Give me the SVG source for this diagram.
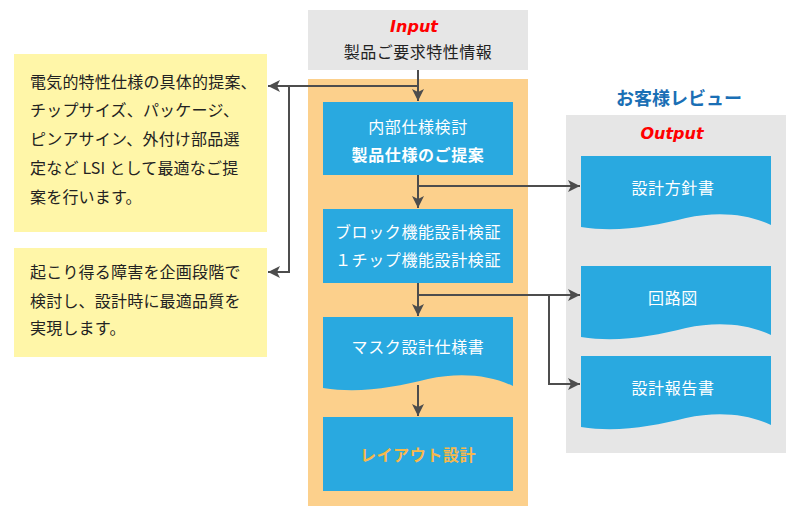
<svg xmlns="http://www.w3.org/2000/svg" width="800" height="520" viewBox="0 0 800 520">
<defs>
<style>
.t{font-family:"Noto Sans CJK JP","Noto Sans",sans-serif;font-size:16px;}
.note{fill:#222;letter-spacing:0.2px;}
.w{fill:#fff;text-anchor:middle;letter-spacing:0.6px;}
.red{font-family:Verdana,"DejaVu Sans",sans-serif;font-style:italic;font-weight:bold;font-size:16px;fill:#ff0000;text-anchor:middle;}
.blue{fill:#29a9e0;}
.con{fill:none;stroke:#4d4d4d;stroke-width:2;}
</style>
<marker id="ah" markerUnits="userSpaceOnUse" markerWidth="14" markerHeight="14" refX="12" refY="6" orient="auto">
<path d="M0,0 L12,6 L0,12 L3,6 z" fill="#4d4d4d"/>
</marker>
</defs>
<rect width="800" height="520" fill="#fff"/>

<g id="note1">
<rect x="14" y="54" width="253" height="178" fill="#fff6a8"/>
<text class="t note" x="30" y="88">電気的特性仕様の具体的提案、</text>
<text class="t note" x="30" y="116">チップサイズ、パッケージ、</text>
<text class="t note" x="30" y="145">ピンアサイン、外付け部品選</text>
<text class="t note" x="30" y="174">定など LSI として最適なご提</text>
<text class="t note" x="30" y="203">案を行います。</text>
</g>
<g id="note2">
<rect x="14" y="248" width="253" height="109" fill="#fff6a8"/>
<text class="t note" x="30" y="278">起こり得る障害を企画段階で</text>
<text class="t note" x="30" y="307">検討し、設計時に最適品質を</text>
<text class="t note" x="30" y="334">実現します。</text>
</g>

<g id="input">
<rect x="308" y="10" width="220" height="60" fill="#e6e6e6"/>
<text class="red" x="414" y="32">Input</text>
<text class="t" x="418" y="58" text-anchor="middle" fill="#222" letter-spacing="0.5">製品ご要求特性情報</text>
</g>

<g id="flow">
<rect x="308" y="79" width="220" height="427" fill="#fcd08c"/>
</g>

<g id="spec">
<rect class="blue" x="323" y="102" width="190" height="73"/>
<text class="t w" x="418" y="133">内部仕様検討</text>
<text class="t w" x="418" y="161" font-weight="bold">製品仕様のご提案</text>
</g>
<g id="verify">
<rect class="blue" x="323" y="209" width="190" height="74"/>
<text class="t w" x="418" y="238">ブロック機能設計検証</text>
<text class="t w" x="418" y="266">１チップ機能設計検証</text>
</g>
<g id="mask">
<path class="blue" d="M323,317 H513 V386 C490,375 460,372 428,379 C395,387 360,394 323,388 Z"/>
<text class="t w" x="418" y="353">マスク設計仕様書</text>
</g>
<g id="layout">
<rect class="blue" x="323" y="417" width="190" height="74"/>
<text class="t" x="418" y="461" text-anchor="middle" font-weight="bold" fill="#f7b84b" letter-spacing="0.6">レイアウト設計</text>
</g>

<g id="output">
<text class="t" x="679" y="105" text-anchor="middle" font-weight="bold" fill="#1a6fb5" style="font-size:18px">お客様レビュー</text>
<rect x="566" y="115" width="220" height="338" fill="#e6e6e6"/>
<text class="red" x="672" y="139">Output</text>
</g>
<g id="doc1">
<path class="blue" d="M581,156 H771 V225 C748,214 718,211 686,218 C653,226 618,233 581,227 Z"/>
<text class="t w" x="673" y="194">設計方針書</text>
</g>
<g id="doc2">
<path class="blue" d="M581,266 H771 V335 C748,324 718,321 686,328 C653,336 618,343 581,337 Z"/>
<text class="t w" x="673" y="304">回路図</text>
</g>
<g id="doc3">
<path class="blue" d="M581,356 H771 V425 C748,414 718,411 686,418 C653,426 618,433 581,427 Z"/>
<text class="t w" x="673" y="394">設計報告書</text>
</g>

<g id="connectors">
<path class="con" d="M418,70 V101" marker-end="url(#ah)"/>
<path class="con" d="M418,86 H268" marker-end="url(#ah)"/>
<path class="con" d="M289,86 V272 H268" marker-end="url(#ah)"/>
<path class="con" d="M418,175 V208" marker-end="url(#ah)"/>
<path class="con" d="M418,186 H580" marker-end="url(#ah)"/>
<path class="con" d="M418,283 V316" marker-end="url(#ah)"/>
<path class="con" d="M418,295 H580" marker-end="url(#ah)"/>
<path class="con" d="M549,295 V384 H580" marker-end="url(#ah)"/>
<path class="con" d="M418,385 V416" marker-end="url(#ah)"/>
</g>
</svg>
